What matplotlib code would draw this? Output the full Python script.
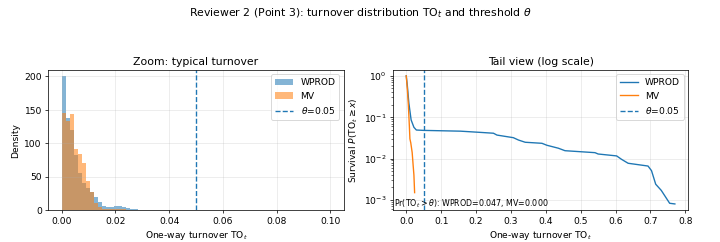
import matplotlib
matplotlib.use("Agg")
import matplotlib.pyplot as plt
import numpy as np

theta = 0.05

# histogram (zoom panel): bin width and densities
bin_w = 0.0015
dens_wprod = [200, 138, 120, 82, 55, 41, 33, 27, 19, 12, 6, 4, 4, 6, 6, 5, 3, 2, 2]
dens_mv = [146, 133, 144, 92, 84, 70, 44, 27, 10, 4, 2, 1.5, 1, 1, 1, 1, 0.5]

# survival curves (tail panel)
surv_x_wprod = [0.0, 0.003, 0.0075, 0.014, 0.022, 0.029, 0.05, 0.155, 0.212, 0.25, 0.26,
                0.307, 0.322, 0.341, 0.389, 0.403, 0.436, 0.455, 0.541, 0.55, 0.603,
                0.617, 0.636, 0.693, 0.703, 0.715, 0.731, 0.755, 0.77]
surv_y_wprod = [1.0, 0.6, 0.22, 0.086, 0.057, 0.049, 0.048, 0.046, 0.043, 0.041, 0.037,
                0.032, 0.028, 0.0248, 0.0234, 0.021, 0.0178, 0.0155, 0.0139, 0.0129, 0.0116,
                0.0096, 0.0077, 0.0066, 0.0051, 0.0024, 0.0017, 0.00083, 0.0008]
surv_x_mv = [0.0, 0.003, 0.006, 0.009, 0.0105, 0.013, 0.017, 0.020, 0.022, 0.024]
surv_y_mv = [1.0, 0.5, 0.2, 0.06, 0.03, 0.024, 0.014, 0.0065, 0.004, 0.0015]

pr_wprod, pr_mv = 0.047, 0.000

dpi = 720 / 11
fig, (ax1, ax2) = plt.subplots(1, 2, figsize=(11, 3.7), dpi=dpi)
fig.subplots_adjust(left=0.067, right=0.956, bottom=0.132, top=0.711, wspace=0.166)
fig.suptitle(r"Reviewer 2 (Point 3): turnover distribution TO$_t$ and threshold $\theta$", y=0.975)

# left: zoomed histogram
edges_w = np.arange(len(dens_wprod) + 1) * bin_w
edges_m = np.arange(len(dens_mv) + 1) * bin_w
ax1.hist(edges_w[:-1], bins=edges_w, weights=dens_wprod, alpha=0.55, label="WPROD")
ax1.hist(edges_m[:-1], bins=edges_m, weights=dens_mv, alpha=0.55, label="MV")
ax1.axvline(theta, ls="--", lw=1.5, label=rf"$\theta$={theta:.2f}")
ax1.set_xlim(-0.005, 0.105)
ax1.set_ylim(0, 210)
ax1.set_title("Zoom: typical turnover")
ax1.set_xlabel(r"One-way turnover TO$_t$")
ax1.set_ylabel("Density")
ax1.grid(alpha=0.3)
ax1.legend(loc="upper right")

# right: survival on log scale
ax2.plot(surv_x_wprod, surv_y_wprod, lw=1.5, label="WPROD")
ax2.plot(surv_x_mv, surv_y_mv, lw=1.5, label="MV")
ax2.axvline(theta, ls="--", lw=1.5, label=rf"$\theta$={theta:.2f}")
ax2.set_yscale("log")
ax2.set_xlim(-0.0385, 0.8085)
ax2.set_ylim(5.7e-4, 1.4)
ax2.set_title("Tail view (log scale)")
ax2.set_xlabel(r"One-way turnover TO$_t$")
ax2.set_ylabel(r"Survival $P(\mathrm{TO}_t \geq x)$")
ax2.grid(alpha=0.3)
ax2.legend(loc="upper right")
ax2.text(0.005, 0.03, rf"Pr(TO$_t > \theta$): WPROD={pr_wprod:.3f}, MV={pr_mv:.3f}",
         transform=ax2.transAxes, fontsize=8.7)

plt.savefig("out.png", dpi=dpi)
